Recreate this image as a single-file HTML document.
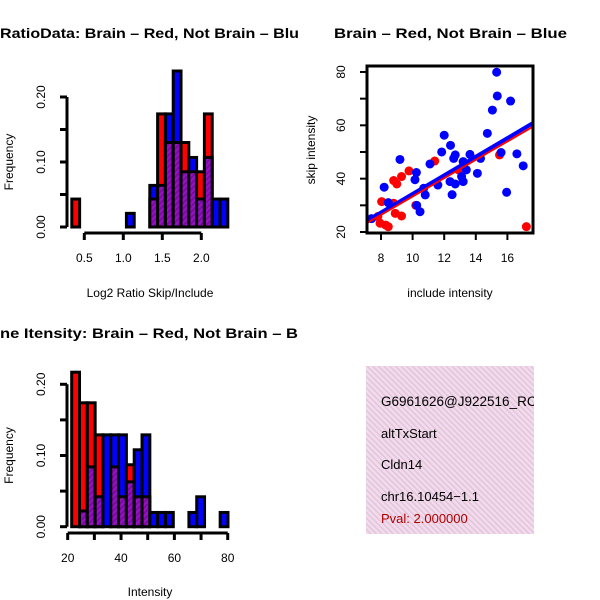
<!DOCTYPE html>
<html><head><meta charset="utf-8"><style>
body{margin:0;background:#fff}
svg{display:block;font-family:"Liberation Sans",Arial,sans-serif}
</style></head><body>
<svg id="c" width="600" height="600" viewBox="0 0 600 600" xmlns="http://www.w3.org/2000/svg">
<defs>
<pattern id="hatch" width="4" height="4" patternUnits="userSpaceOnUse" patternTransform="rotate(45)">
<rect width="4" height="4" fill="#9a10c8"/><rect width="2" height="4" fill="#7a0aa0"/>
</pattern>
<pattern id="pink" width="4" height="4" patternUnits="userSpaceOnUse" patternTransform="rotate(-45)">
<rect width="4" height="4" fill="#f6d8f0"/><rect width="1.3" height="4" fill="#d8c8d0"/>
</pattern>
</defs>
<text x="0" y="38" font-size="14" font-weight="bold" textLength="299" lengthAdjust="spacingAndGlyphs">RatioData: Brain – Red, Not Brain – Blu</text>
<text x="334" y="38" font-size="14" font-weight="bold" textLength="233" lengthAdjust="spacingAndGlyphs">Brain – Red, Not Brain – Blue</text>
<text x="0" y="338" font-size="14" font-weight="bold" textLength="298" lengthAdjust="spacingAndGlyphs">ne Itensity: Brain – Red, Not Brain – B</text>
<g id="p1"></g>
<g id="p2"></g>
<g id="p3"></g>
<g>
<rect x="366" y="366" width="168" height="168" fill="url(#pink)"/>
<svg x="366" y="366" width="168" height="168" overflow="hidden">
<text x="15" y="40" font-size="13.5">G6961626@J922516_RC</text>
<text x="15" y="72" font-size="13">altTxStart</text>
<text x="15" y="103" font-size="13">Cldn14</text>
<text x="15" y="135" font-size="13">chr16.10454−1.1</text>
<text x="15" y="157" font-size="13" fill="#b00000">Pval: 2.000000</text>
</svg>
</g>
</svg>
<script>
const NS="http://www.w3.org/2000/svg";
// ratio histogram data
const ratioBinStart=0.34, ratioBinWidth=0.1;
const ratioRed=[0.043,0,0,0,0,0,0,0,0,0,0.043,0.174,0.13,0.13,0.13,0.085,0.085,0.174,0,0];
const ratioBlue=[0,0,0,0,0,0,0,0.021,0,0,0.064,0.064,0.174,0.24,0.085,0.107,0.043,0.107,0.043,0.043];
const ratioXTicks=["0.5","1.0","1.5","2.0"];
const ratioYTicks=["0.00","0.10","0.20"];
// intensity histogram data
const intBinStart=21.5, intBinWidth=2.93;
const intRed=[0.217,0.174,0.174,0.129,0,0.084,0.042,0.087,0.042,0.042,0,0,0,0,0,0,0,0,0,0];
const intBlue=[0,0.022,0.084,0.042,0.129,0.129,0.129,0.063,0.108,0.129,0.02,0.02,0.02,0,0,0.02,0.042,0,0,0.02];
const intXTicks=["20","40","60","80"];
const intYTicks=["0.00","0.10","0.20"];
// scatter data
const blueX=[15.32,15.36,16.2,15.05,14.73,12.0,12.4,11.84,15.6,16.6,13.63,14.3,12.7,12.6,13.2,9.2,11.1,17.0,14.1,10.24,10.15,12.37,12.7,13.2,13.4,8.2,12.5,15.95,10.8,10.7,10.26,10.47,8.46,7.4,13.1,11.6];
const blueY=[79.9,71,69.1,65.7,57,56.3,52.5,50,49.8,49.3,49.1,47.6,48.9,47.6,46.4,47.2,45.5,44.8,42,42.3,39.6,38.9,38,38.9,43.3,36.8,34,34.9,33.9,36.4,30,27.6,31,25,40.8,37.6];
const redX=[8.04,8.8,9.0,9.3,9.77,11.4,12.9,15.5,17.2,7.94,8.3,8.46,7.8,8.8,8.9,9.3,10.2];
const redY=[31.4,39.3,38,40.8,42.9,46.6,43.3,48.9,22,23.3,22.6,22,25.8,30.8,27,26,30];
const fitBlue=[-0.64,3.49];
const fitRed=[-1.09,3.44];
const scatXTicks=["8","10","12","14","16"];
const scatYTicks=["20","40","60","80"];

function el(tag,attrs,parent,txt){const e=document.createElementNS(NS,tag);for(const k in attrs)e.setAttribute(k,attrs[k]);if(txt!==undefined)e.textContent=txt;parent.appendChild(e);return e;}

function hist(g,red,blue,bs,bw,xs,ys,xTicks,yTicks,yTickVals,yAxisX,xAxisY,xlab,xlabY,pre,midTicks){
  for(let i=0;i<red.length;i++){
    const r=red[i],b=blue[i];
    if(r===0&&b===0)continue;
    const x0=xs(bs+i*bw),x1=xs(bs+(i+1)*bw);
    const mx=Math.max(r,b),mn=Math.min(r,b);
    const outer=el('rect',{x:x0,y:ys(mx),width:x1-x0,height:ys(0)-ys(mx),fill:r>=b?'#ff0000':'#0000ff',stroke:'#000','stroke-width':3},g);
    
    
    if(mn>0){
      const inner=el('rect',{x:x0,y:ys(mn),width:x1-x0,height:ys(0)-ys(mn),fill:'url(#hatch)',stroke:'#000','stroke-width':3},g);
      
      
    }
  }
  const yv=yTickVals;
  const ya=el('g',{},g);
  
  
  el('line',{x1:yAxisX,x2:yAxisX,y1:ys(yv[yv.length-1]),y2:ys(0),stroke:'#000','stroke-width':3},ya);
  const step=(yv[yv.length-1])/4;
  for(let k=0;k<=4;k++){const y=ys(k*step);el('line',{x1:yAxisX-7,x2:yAxisX,y1:y,y2:y,stroke:'#000','stroke-width':3},ya);}
  yTicks.forEach((t,k)=>{const y=ys(yv[k]);const tx=el('text',{x:45,y:y,'font-size':12,'text-anchor':'middle',transform:`rotate(-90 45 ${y})`},ya,t);});
  const xa=el('g',{},g);
  
  
  const xv=xTicks.map(Number);
  el('line',{x1:xs(xv[0]),x2:xs(xv[xv.length-1]),y1:xAxisY,y2:xAxisY,stroke:'#000','stroke-width':3},xa);
  for(let k=0;k<xv.length;k++){const x=xs(xv[k]);el('line',{x1:x,x2:x,y1:xAxisY,y2:xAxisY+7,stroke:'#000','stroke-width':3},xa);}
  if(midTicks)for(let k=0;k<xv.length-1;k++){const x=xs((xv[k]+xv[k+1])/2);el('line',{x1:x,x2:x,y1:xAxisY,y2:xAxisY+7,stroke:'#000','stroke-width':3},xa);}
  xTicks.forEach((t,k)=>{const tx=el('text',{x:xs(xv[k]),y:xAxisY+29,'font-size':12,'text-anchor':'middle'},xa,t);});
  const xl=el('text',{x:150,y:xlabY,'font-size':12,'text-anchor':'middle'},g,xlab);
  
  
  const cy=(ys(0)+ys(yv[yv.length-1]))/2;
  const yl=el('text',{x:13,y:cy,'font-size':12,'text-anchor':'middle',transform:`rotate(-90 13 ${cy})`},g,'Frequency');
  
  
}

// panel 1
(function(){
  const g=document.getElementById('p1');
  const xs=v=>84.3+(v-0.5)*78;
  const ys=v=>227-v*650;
  hist(g,ratioRed,ratioBlue,ratioBinStart,ratioBinWidth,xs,ys,ratioXTicks,ratioYTicks,[0,0.1,0.2],67,233,'Log2 Ratio Skip/Include',297,'ratio',false);
})();
// panel 3
(function(){
  const g=document.getElementById('p3');
  const xs=v=>67.7+(v-20)*2.667;
  const ys=v=>526.7-v*712;
  hist(g,intRed,intBlue,intBinStart,intBinWidth,xs,ys,intXTicks,intYTicks,[0,0.1,0.2],67,533,'Intensity',596,'int',true);
})();
// panel 2 scatter
(function(){
  const g=document.getElementById('p2');
  const xs=v=>381+(v-8)*15.8;
  const ys=v=>232-(v-20)*2.667;
  const L=367,R=533,T=66,B=233;
  const clip=el('clipPath',{id:'sc'},g);el('rect',{x:L,y:T,width:R-L,height:B-T},clip);
  const pts=el('g',{'clip-path':'url(#sc)'},g);
  
  
  redX.forEach((x,i)=>{const c=el('circle',{cx:xs(x),cy:ys(redY[i]),r:4.5,fill:'#ff0000'},pts);});
  blueX.forEach((x,i)=>{const c=el('circle',{cx:xs(x),cy:ys(blueY[i]),r:4.5,fill:'#0000ff'},pts);});
  const x0=7.09,x1=17.6;
  const bl=el('line',{x1:xs(x0),y1:ys(fitBlue[0]+fitBlue[1]*x0),x2:xs(x1),y2:ys(fitBlue[0]+fitBlue[1]*x1),stroke:'#0000ff','stroke-width':4},pts);
  
  
  const rl=el('line',{x1:xs(x0),y1:ys(fitRed[0]+fitRed[1]*x0),x2:xs(x1),y2:ys(fitRed[0]+fitRed[1]*x1),stroke:'#ff0000','stroke-width':2},pts);
  
  
  const box=el('rect',{x:L,y:T,width:R-L,height:B-T,fill:'none',stroke:'#000','stroke-width':3},g);
  
  
  scatXTicks.forEach(t=>{const x=xs(+t);el('line',{x1:x,x2:x,y1:B,y2:B+7,stroke:'#000','stroke-width':2},g);const tx=el('text',{x:x,y:B+29,'font-size':12,'text-anchor':'middle'},g,t);});
  for(let v=20;v<=80;v+=10){const y=ys(v);el('line',{x1:L-7,x2:L,y1:y,y2:y,stroke:'#000','stroke-width':2},g);}
  scatYTicks.forEach(t=>{const y=ys(+t);const tx=el('text',{x:345,y:y,'font-size':12,'text-anchor':'middle',transform:`rotate(-90 345 ${y})`},g,t);});
  const xl=el('text',{x:450,y:297,'font-size':12,'text-anchor':'middle'},g,'include intensity');
  
  
  const yl=el('text',{x:315,y:150,'font-size':12,'text-anchor':'middle',transform:'rotate(-90 315 150)'},g,'skip intensity');
  
  
})();
</script>
</body></html>
